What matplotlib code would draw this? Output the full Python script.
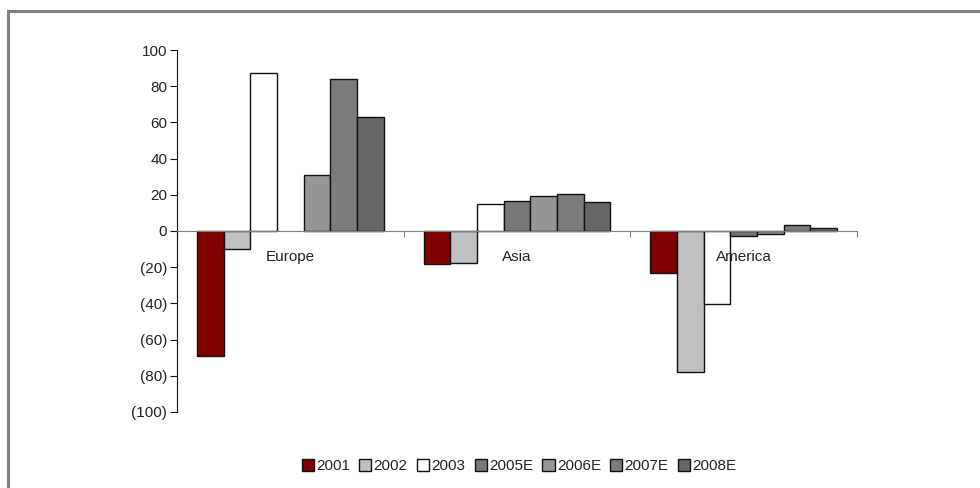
import numpy as np
import matplotlib
matplotlib.use("Agg")
import matplotlib.pyplot as plt
from matplotlib.patches import Rectangle
from matplotlib.ticker import FuncFormatter, MultipleLocator

plt.rcParams['font.family'] = ['Liberation Sans', 'DejaVu Sans']

regions = ["Europe", "Asia", "America"]
years = ["2001", "2002", "2003", "2005E", "2006E", "2007E", "2008E"]
v2001 = [-68.8, -18.0, -23.0]
v2002 = [-9.7, -17.5, -77.9]
v2003 = [87.3, 15.1, -40.5]
v2005e = [np.nan, 16.4, -2.8]   # no Europe figure for 2005E
v2006e = [30.9, 19.3, -1.5]
v2007e = [83.8, 20.6, 3.3]
v2008e = [62.8, 15.8, 1.8]
series = [v2001, v2002, v2003, v2005e, v2006e, v2007e, v2008e]
colors = ["#800000", "#c0c0c0", "#ffffff", "#777777", "#969696", "#7c7c7c", "#666666"]

fig = plt.figure(figsize=(9.8, 4.88), dpi=100)
ax = fig.add_axes([177 / 980, 76 / 488, 680 / 980, 362 / 488])

# 7 bars per group, gap of 1.5 bar widths between groups
w = 1 / 8.5
centers = np.arange(len(regions)) + 0.5
for i, (vals, c) in enumerate(zip(series, colors)):
    ax.bar(centers + (i - 3) * w, vals, width=w, color=c, edgecolor="#111111",
           linewidth=1.0, label=years[i], zorder=2)

ax.set_xlim(0, 3)
ax.set_ylim(-100, 100)
ax.yaxis.set_major_locator(MultipleLocator(20))
ax.yaxis.set_major_formatter(FuncFormatter(
    lambda v, p: f"({abs(v):.0f})" if v < 0 else f"{v:.0f}"))

for s in ["top", "right"]:
    ax.spines[s].set_visible(False)
ax.spines["bottom"].set_position(("data", 0))
ax.spines["bottom"].set_color("#808080")
ax.spines["bottom"].set_zorder(3)
ax.spines["left"].set_color("#111111")
ax.set_xticks([0, 1, 2, 3])
ax.set_xticklabels([])
ax.tick_params(axis="x", direction="out", length=4, color="#808080")
ax.tick_params(axis="y", direction="out", length=5, color="#111111",
               labelsize=11, labelcolor="#222222", pad=2)

for cx, name in zip(centers, regions):
    ax.text(cx, -14.5, name, ha="center", va="center", fontsize=11, color="#222222")

leg = fig.legend(loc="center", bbox_to_anchor=(519 / 980, 1 - 466 / 488), ncol=7,
                 frameon=False, fontsize=11, handlelength=0.8, handleheight=0.8,
                 handletextpad=0.15, columnspacing=0.6, borderaxespad=0)
for t in leg.get_texts():
    t.set_color("#222222")

# outer gray frame, open on the right and bottom
fig.add_artist(Rectangle((7.5 / 980, -0.2), 1.5, 1.2 - 10.5 / 488,
                         transform=fig.transFigure, fill=False,
                         edgecolor="#808080", linewidth=2.2))

fig.savefig("out.png", dpi=100)
